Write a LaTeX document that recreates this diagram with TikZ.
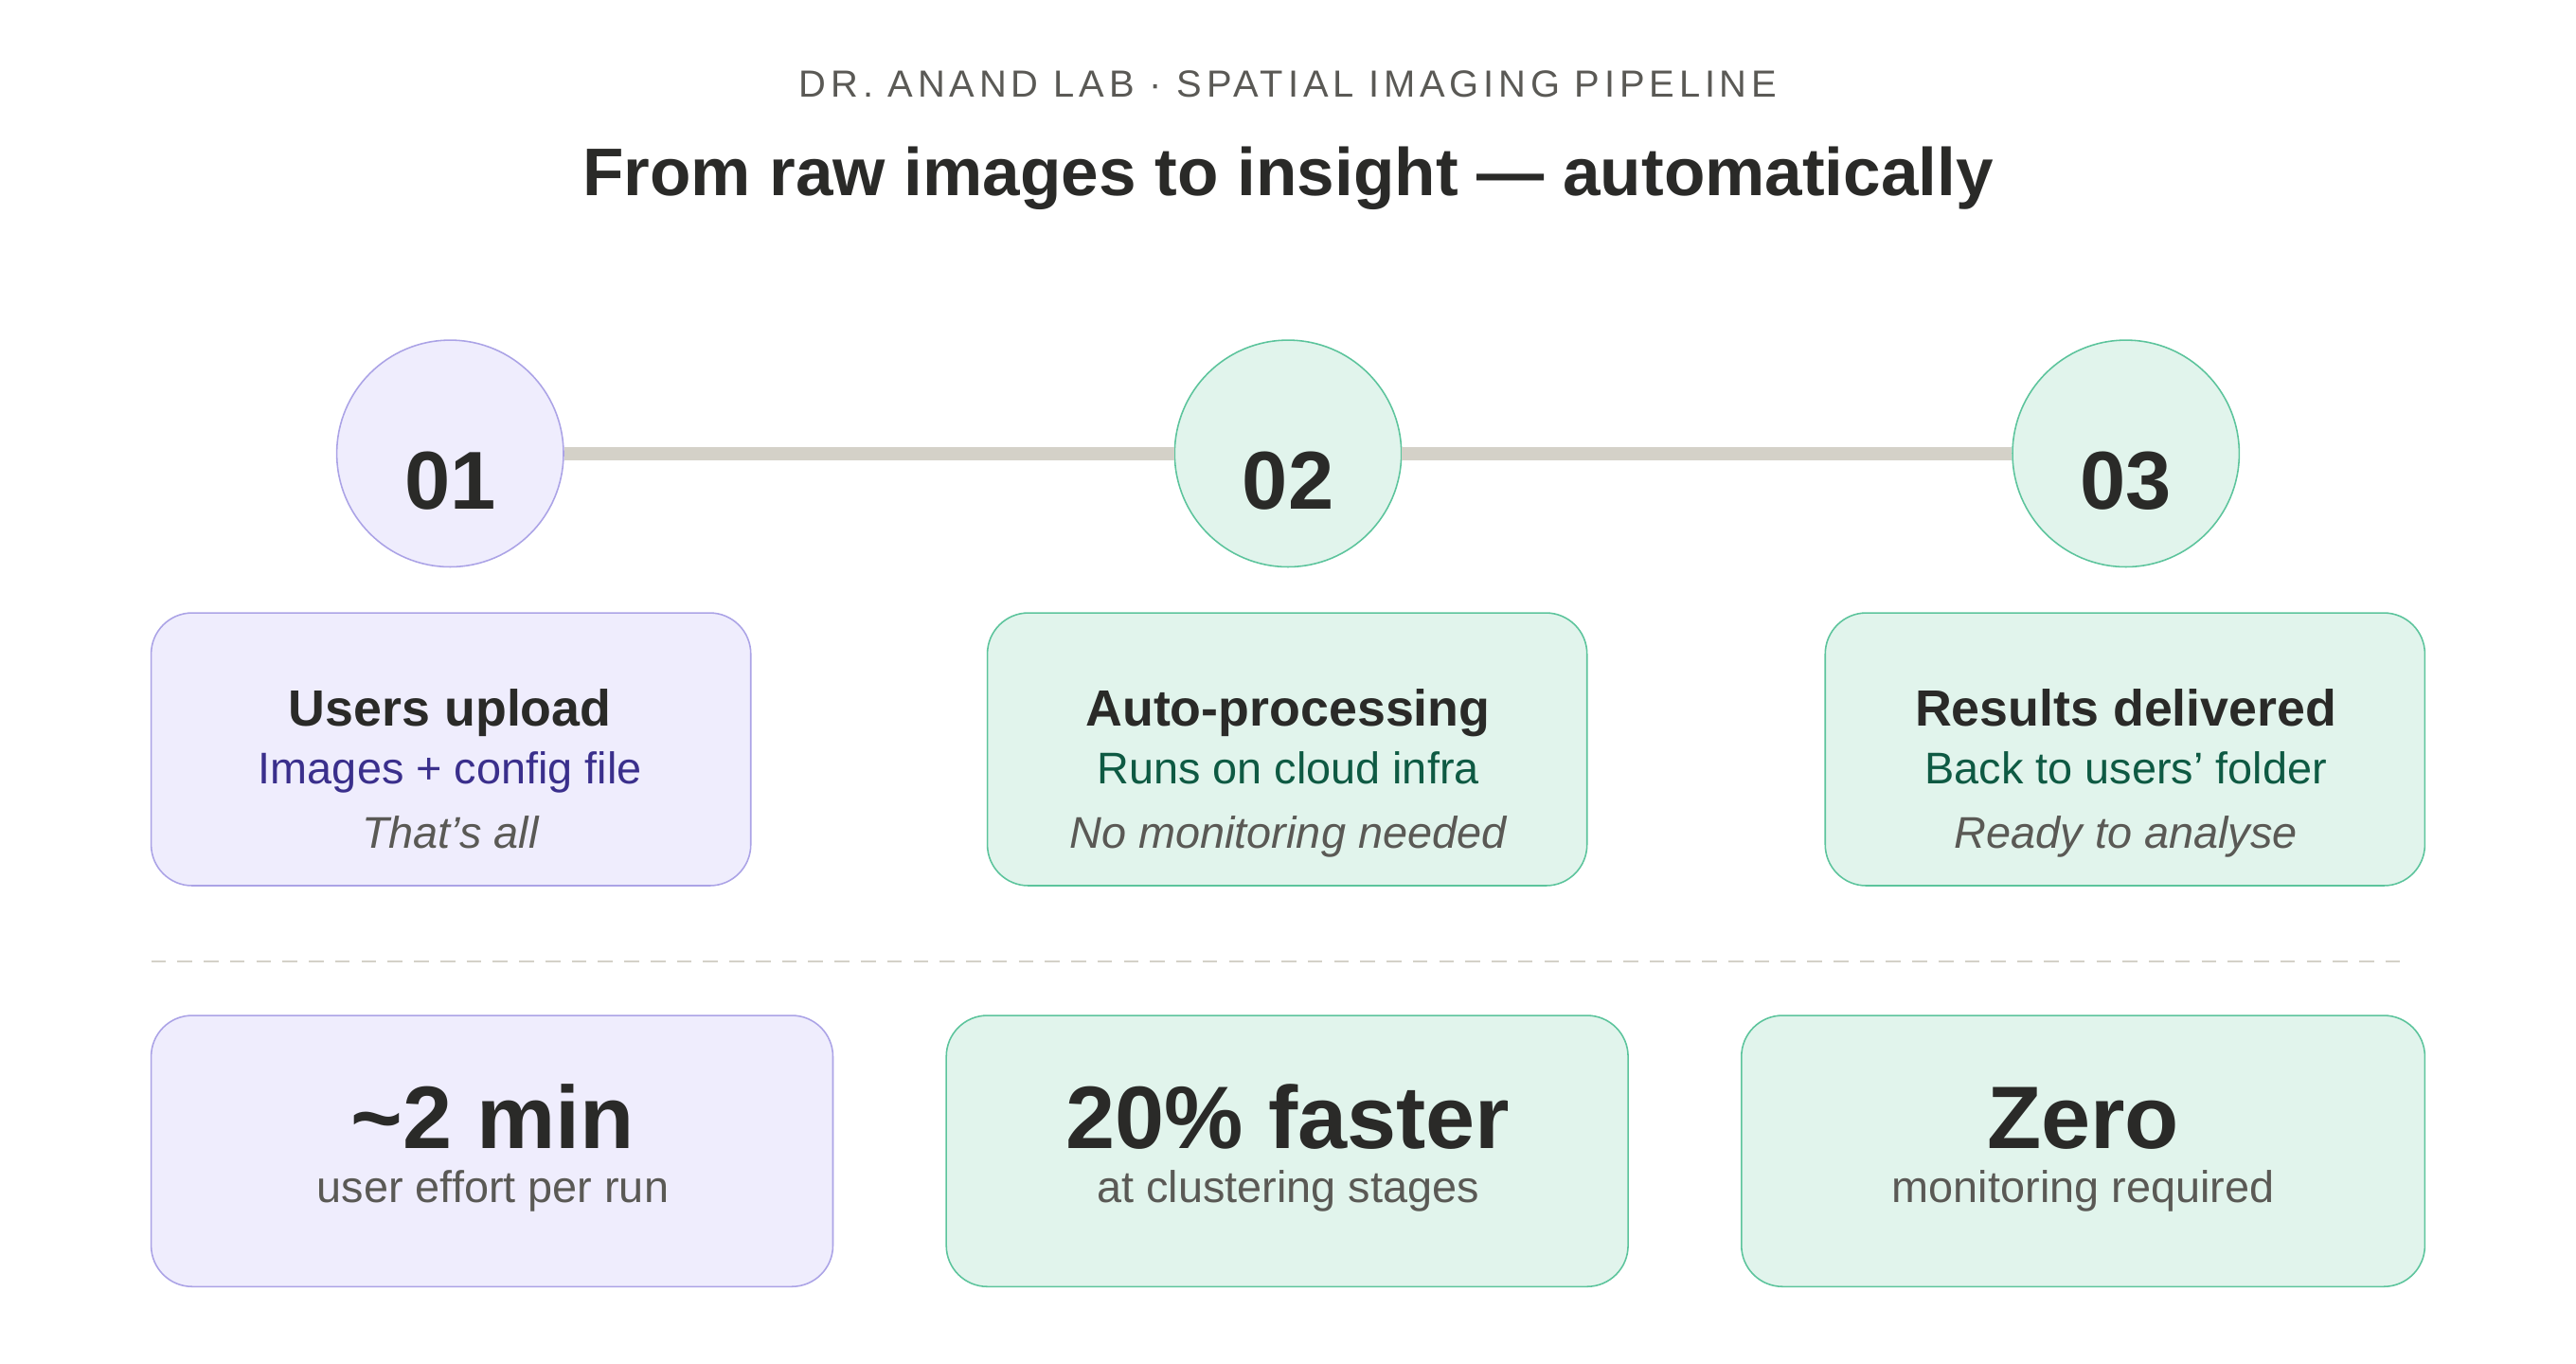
\documentclass[tikz,border=0pt]{standalone}
\usepackage{fontspec}
\setmainfont{Liberation Sans}
\newfontfamily\spaced[LetterSpace=12]{Liberation Sans}
\definecolor{pfill}{HTML}{EFEDFD}\definecolor{pdraw}{HTML}{ABA3E6}
\definecolor{gfill}{HTML}{E1F4EC}\definecolor{gdraw}{HTML}{5CC49C}
\definecolor{ink}{HTML}{2A2A28}\definecolor{grey}{HTML}{5A5955}
\definecolor{ptext}{HTML}{3A2F8C}\definecolor{gtext}{HTML}{0E5A43}
\definecolor{track}{HTML}{D4D1C8}
\begin{document}
\begin{tikzpicture}[x=1pt,y=-1pt,
  fs/.style={font=\fontsize{#1}{#1}\selectfont},
  circ/.style={circle,minimum size=138pt,inner sep=0pt,line width=0.9pt},
  card/.style={rounded corners=25pt,line width=0.9pt},
  num/.style={fs=50,font=\fontsize{50}{50}\selectfont\bfseries,text=ink,anchor=base},
  ttl/.style={font=\fontsize{31}{31}\selectfont\bfseries,text=ink,anchor=base},
  sub/.style={font=\fontsize{27}{27}\selectfont,anchor=base},
  note/.style={font=\fontsize{27}{27}\selectfont\itshape,text=grey,anchor=base},
  big/.style={font=\fontsize{54}{54}\selectfont\bfseries,text=ink,anchor=base},
  small/.style={font=\fontsize{27}{27}\selectfont,text=grey,anchor=base}]
\useasboundingbox (0,0) rectangle (1568,830);
\node[anchor=base,text=grey,font=\fontsize{23}{23}\selectfont\spaced] (kick) at (784,59) {DR. ANAND LAB · SPATIAL IMAGING PIPELINE};
\node[anchor=base,text=ink,font=\fontsize{41}{41}\selectfont\bfseries] (head) at (784,119) {From raw images to insight — automatically};
\node[circ,fill=pfill,draw=pdraw] (c1) at (274,276) {};
\node[circ,fill=gfill,draw=gdraw] (c2) at (784,276) {};
\node[circ,fill=gfill,draw=gdraw] (c3) at (1294,276) {};
\draw[track,line width=8pt] (c1.east) -- (c2.west) (c2.east) -- (c3.west);
\node[num] (n1) at (274,310) {01};
\node[num] (n2) at (784,310) {02};
\node[num] (n3) at (1294,310) {03};
\draw[card,fill=pfill,draw=pdraw] (92,373) rectangle (457,539);
\draw[card,fill=gfill,draw=gdraw] (601,373) rectangle (966,539);
\draw[card,fill=gfill,draw=gdraw] (1111,373) rectangle (1476,539);
\node[ttl] (t1) at (274,442) {Users upload};
\node[sub,text=ptext] (s1) at (274,477) {Images + config file};
\node[note] (i1) at (274,516) {That's all};
\node[ttl] (t2) at (784,442) {Auto-processing};
\node[sub,text=gtext] (s2) at (784,477) {Runs on cloud infra};
\node[note] (i2) at (784,516) {No monitoring needed};
\node[ttl] (t3) at (1294,442) {Results delivered};
\node[sub,text=gtext] (s3) at (1294,477) {Back to users' folder};
\node[note] (i3) at (1294,516) {Ready to analyse};
\coordinate (dl) at (92,585); \coordinate (dr) at (1468,585);
\draw[track,line width=1.2pt,dash pattern=on 9pt off 7pt] (dl) -- (dr);
\draw[card,fill=pfill,draw=pdraw] (92,618) rectangle (507,783);
\draw[card,fill=gfill,draw=gdraw] (576,618) rectangle (991,783);
\draw[card,fill=gfill,draw=gdraw] (1060,618) rectangle (1476,783);
\node[big] (b1) at (300,699) {\textasciitilde2 min};
\node[small] (m1) at (300,732) {user effort per run};
\node[big] (b2) at (784,699) {20\% faster};
\node[small] (m2) at (784,732) {at clustering stages};
\node[big] (b3) at (1268,699) {Zero};
\node[small] (m3) at (1268,732) {monitoring required};
\end{tikzpicture}
\end{document}
